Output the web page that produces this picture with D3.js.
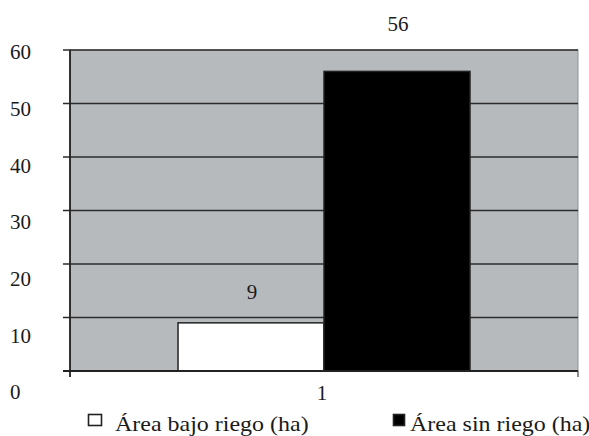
<!DOCTYPE html>
<html>
<head>
<meta charset="utf-8">
<script src="https://cdn.jsdelivr.net/npm/d3@7"></script>
<style>
  body { margin: 0; background: #fff; }
  text { font-family: "Liberation Serif", "Times New Roman", Times, serif; fill: #1a1a1a; }
</style>
</head>
<body>
<div id="chart"></div>
<script>
var categories = ["1"];
var seriesNames = ["Área bajo riego (ha)", "Área sin riego (ha)"];
var seriesValues = [9, 56];
var seriesFill = ["#ffffff", "#000000"];
var yTicks = [0, 10, 20, 30, 40, 50, 60];

var W = 589, H = 436;
var plot = {left: 70, right: 578, top: 50, bottom: 371};

var svg = d3.select("#chart").append("svg")
  .attr("width", W)
  .attr("height", H);

// main scales
var y = d3.scaleLinear().domain([0, 60]).range([plot.bottom, plot.top]);
var x = d3.scaleBand().domain(categories).range([plot.left, plot.right]).paddingInner(0).paddingOuter(0.37);
var xs = d3.scaleBand().domain(d3.range(seriesValues.length)).range([0, x.bandwidth()]);

// the tick labels sit a bit lower than the gridlines in the original
var yLab = d3.scaleLinear().domain([0, 60]).range([392, 52]);
// value label positions over the bars
var yVal = d3.scaleLinear().domain([0, 60]).range([343.5, 0.3]);

// plot background
svg.append("rect")
  .attr("x", plot.left)
  .attr("y", plot.top)
  .attr("width", plot.right - plot.left)
  .attr("height", plot.bottom - plot.top)
  .attr("fill", "#b7babd")
  .attr("stroke", "#8e9194")
  .attr("stroke-width", 1);

// gridlines
svg.append("g")
  .selectAll("line")
  .data(yTicks.filter(function(d){ return d > 0; }))
  .join("line")
    .attr("x1", plot.left - 7)
    .attr("x2", plot.right)
    .attr("y1", function(d){ return y(d); })
    .attr("y2", function(d){ return y(d); })
    .attr("stroke", "#2b2b2b")
    .attr("stroke-width", 1.6);

// bars
svg.append("g")
  .selectAll("rect")
  .data(seriesValues)
  .join("rect")
    .attr("x", function(d, i){ return x(categories[0]) + xs(i); })
    .attr("y", function(d){ return y(d); })
    .attr("width", xs.bandwidth())
    .attr("height", function(d){ return y(0) - y(d); })
    .attr("fill", function(d, i){ return seriesFill[i]; })
    .attr("stroke", "#222")
    .attr("stroke-width", 1.5);

// value labels
svg.append("g")
  .selectAll("text")
  .data(seriesValues)
  .join("text")
    .attr("x", function(d, i){ return x(categories[0]) + xs(i) + xs.bandwidth() / 2 + 1; })
    .attr("y", function(d){ return yVal(d); })
    .attr("dy", "0.35em")
    .attr("text-anchor", "middle")
    .attr("font-size", 21)
    .text(function(d){ return d; });

// x axis line
svg.append("line")
  .attr("x1", plot.left - 7).attr("x2", plot.right)
  .attr("y1", y(0)).attr("y2", y(0))
  .attr("stroke", "#222").attr("stroke-width", 1.8);
svg.append("line")
  .attr("x1", plot.right).attr("x2", plot.right)
  .attr("y1", y(0)).attr("y2", y(0) + 6)
  .attr("stroke", "#444").attr("stroke-width", 1.2);

// y axis line
svg.append("line")
  .attr("x1", plot.left).attr("x2", plot.left)
  .attr("y1", plot.top).attr("y2", y(0) + 6)
  .attr("stroke", "#222").attr("stroke-width", 1.8);

// y tick labels (left aligned like the original)
svg.append("g")
  .selectAll("text")
  .data(yTicks)
  .join("text")
    .attr("x", 10)
    .attr("y", function(d){ return yLab(d); })
    .attr("dy", "0.35em")
    .attr("font-size", 21)
    .text(function(d){ return d; });

// category label
svg.append("g")
  .selectAll("text")
  .data(categories)
  .join("text")
    .attr("x", function(d){ return x(d) + x.bandwidth() / 2 - 2; })
    .attr("y", 393)
    .attr("dy", "0.35em")
    .attr("text-anchor", "middle")
    .attr("font-size", 21)
    .text(function(d){ return d; });

// legend (swatch and text positions differ per item in the original)
var legendX = [88, 393];
var legendW = [13, 11];
var legendTextX = [115, 410];
var leg = svg.append("g")
  .selectAll("g")
  .data(seriesNames)
  .join("g");

leg.append("rect")
  .attr("x", function(d, i){ return legendX[i] + 0.5; })
  .attr("y", 414.5)
  .attr("width", function(d, i){ return legendW[i]; })
  .attr("height", 11)
  .attr("fill", function(d, i){ return seriesFill[i]; })
  .attr("stroke", "#222")
  .attr("stroke-width", 1.6);

leg.append("text")
  .attr("transform", function(d, i){ return "translate(" + legendTextX[i] + ",431) scale(1.09,1)"; })
  .attr("font-size", 22)
  .text(function(d){ return d; });
</script>
</body>
</html>
